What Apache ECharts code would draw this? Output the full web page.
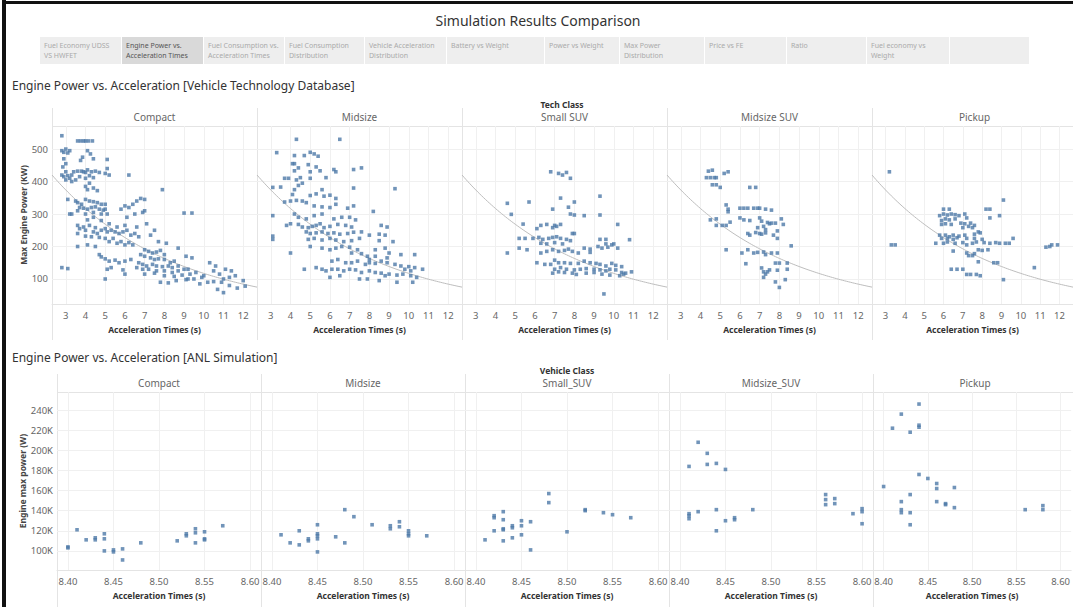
<!DOCTYPE html>
<html>
<head>
<meta charset="utf-8">
<script src="https://cdn.jsdelivr.net/npm/echarts@6/dist/echarts.min.js"></script>
<style>
  html, body { margin: 0; padding: 0; background: #ffffff; }
  #chart { width: 1073px; height: 607px; }
</style>
</head>
<body>
<div id="chart"></div>
<script>
// ---- Text ----
const pageTitle = 'Simulation Results Comparison';
const tabLabels = [
  'Fuel Economy UDSS\nVS HWFET', 'Engine Power vs.\nAcceleration Times', 'Fuel Consumption vs.\nAcceleration Times',
  'Fuel Consumption\nDistribution', 'Vehicle Acceleration\nDistribution', 'Battery vs Weight', 'Power vs Weight',
  'Max Power\nDistribution', 'Price vs FE', 'Ratio', 'Fuel economy vs\nWeight', ''
];
const activeTab = 1;
const techTitle = 'Engine Power vs. Acceleration [Vehicle Technology Database]';
const anlTitle = 'Engine Power vs. Acceleration [ANL Simulation]';
const techHeader = 'Tech Class';
const anlHeader = 'Vehicle Class';
const techClasses = ['Compact', 'Midsize', 'Small SUV', 'Midsize SUV', 'Pickup'];
const vehicleClasses = ['Compact', 'Midsize', 'Small_SUV', 'Midsize_SUV', 'Pickup'];
const xName = 'Acceleration Times (s)';
const techYName = 'Max Engine Power (KW)';
const anlYName = 'Engine max power (W)';

// ---- Tick values ----
const techXTicks = [3, 4, 5, 6, 7, 8, 9, 10, 11, 12];
const techYTicks = [100, 200, 300, 400, 500];
const anlXTicks = [8.40, 8.45, 8.50, 8.55, 8.60];
const anlYTicks = [100000, 120000, 140000, 160000, 180000, 200000, 220000, 240000];

// ---- Vehicle Technology Database: [acceleration time (s), max engine power (kW)] ----
const techCompact = [
  [2.8,541],[2.8,495],[2.9,490],[3.0,500],[3.1,488],[3.2,495],[2.9,470],[3.0,455],[2.85,445],[3.0,430],[2.8,420],[2.9,415],
  [3.1,418],[3.2,410],[3.3,420],[3.4,430],[3.0,405],[3.3,400],
  [3.6,525],[3.75,525],[3.9,525],[4.0,525],[4.15,525],[4.35,525],
  [4.1,495],[3.85,475],[4.25,485],[3.75,465],[4.4,470],[5.1,468],
  [3.6,432],[3.8,432],[3.9,430],[4.0,428],[4.1,436],[4.3,430],[4.5,432],[4.7,428],[5.1,440],[5.0,425],[5.2,420],[3.7,415],
  [4.0,410],[4.2,418],[4.4,412],[3.5,405],[4.2,395],[4.0,385],[4.4,380],[4.6,372],[4.1,375],[6.2,420],
  [3.1,345],[3.2,300],[3.3,300],[3.6,335],[3.8,330],[4.0,345],[4.2,340],[4.4,338],[4.6,335],[4.8,330],[5.0,330],[3.7,320],
  [3.9,318],[4.1,315],[4.3,320],[4.5,322],[4.7,315],[4.9,312],[4.0,300],[4.4,305],[4.8,300],[5.1,300],[5.0,315],[3.5,340],[3.6,310],
  [3.6,265],[3.7,255],[3.9,260],[4.0,250],[4.2,265],[4.4,245],[4.5,258],[4.6,240],[4.8,250],[5.0,255],[5.1,245],[5.3,250],
  [5.5,245],[5.7,240],[5.9,245],[6.1,250],[6.3,235],[6.5,240],[6.7,230],[4.3,230],[4.7,228],[5.0,225],[5.2,215],[5.4,225],
  [5.6,210],[5.8,215],[6.0,205],[6.2,212],[6.4,205],[4.1,282],[4.4,290],[4.8,280],[5.2,270],[5.6,260],[6.0,265],[6.6,260],
  [4.0,232],[3.6,240],
  [2.8,135],[3.1,132],[3.6,200],[4.1,205],[4.5,200],[4.7,175],[5.0,162],[4.8,168],[5.2,155],[5.5,158],[5.7,150],[6.0,155],
  [6.3,160],[5.1,130],[5.3,135],[5.9,128],[5.0,100],[6.0,115],
  [6.2,320],[6.4,330],[6.6,340],[6.8,348],[7.0,345],[6.5,300],[6.9,305],[7.1,270],[7.0,310],[5.8,315],[6.0,325],[6.1,290],
  [7.5,250],[7.9,375],[7.3,235],[7.7,215],[8.1,210],[7.0,190],[7.2,185],[7.4,180],[7.6,183],[7.8,188],[8.0,175],[6.8,175],
  [7.0,170],[7.3,165],[7.5,160],[7.7,162],[8.0,160],[8.3,150],[8.5,155],[6.7,150],[6.9,145],[7.1,140],[7.4,145],[7.6,140],
  [7.9,138],[8.2,140],[8.4,135],[8.7,140],[6.6,135],[6.9,130],[7.2,130],[7.6,125],[8.0,125],[8.4,120],[8.7,125],[9.0,130],
  [9.2,130],[7.0,115],[7.5,118],[8.0,110],[8.5,108],[8.9,112],[9.3,115],[9.6,120],[10.0,110],[7.8,90],[8.2,88],[8.6,95],
  [9.1,98],[9.5,100],[9.9,105],[8.7,195],[9.1,170],[9.4,165],[10.3,150],[10.5,125],[9.0,303],[9.4,303],[10.6,140],[10.8,115],
  [11.0,100],[11.3,105],[11.6,110],[12.0,95],[11.3,80],[11.7,72],[12.1,78],[10.7,68],[10.9,90],[11.1,130],[11.4,125],[10.2,90],
  [10.5,92],[9.8,85],[9.2,100],[11.0,58]
];
const techMidsize = [
  [4.3,530],[6.5,530],[3.3,489],[4.2,480],[4.7,480],[5.0,490],[5.2,485],[5.4,478],[4.1,455],[4.2,455],[4.4,442],[4.9,452],
  [5.3,445],[4.2,433],[5.0,430],[5.5,433],[6.3,430],[6.2,437],[7.2,437],[7.6,442],[3.7,410],[3.9,410],[4.3,405],[4.5,412],
  [4.6,395],[5.0,410],[5.8,412],[3.1,382],[3.5,383],[4.2,375],[4.4,388],[5.6,375],[7.2,380],[9.3,378],[5.0,357],[5.3,362],
  [5.7,355],[6.0,358],[6.3,348],[4.1,360],[4.3,342],[3.7,337],[4.0,340],[4.6,340],[4.8,335],[5.2,325],[5.6,322],[6.0,320],
  [6.3,330],[6.9,318],[7.2,325],[3.1,295],[4.2,300],[4.4,290],[4.8,285],[5.2,295],[5.6,300],[6.2,285],[6.6,290],[7.0,290],
  [7.3,282],[8.2,308],[3.8,265],[4.0,270],[4.4,268],[4.6,260],[4.9,258],[5.1,262],[5.3,265],[5.5,270],[5.7,258],[6.0,262],
  [6.4,268],[6.8,265],[7.1,260],[8.6,265],[8.9,260],[4.8,245],[5.0,240],[5.3,242],[5.6,245],[5.9,240],[6.2,242],[6.5,238],
  [6.9,240],[7.2,244],[7.6,245],[8.0,235],[8.5,238],[8.8,235],[3.1,232],[3.1,222],[4.9,222],[5.2,225],[5.6,220],[6.0,225],
  [6.3,220],[6.7,215],[7.1,218],[7.5,225],[8.5,218],[9.2,215],[4.0,180],[5.0,200],[5.6,195],[6.0,190],[6.3,195],[6.6,200],
  [7.0,198],[7.4,190],[8.3,190],[8.8,195],[9.0,180],[9.6,175],[10.3,175],[7.1,180],[7.6,178],[7.9,170],[8.3,170],[8.9,165],
  [8.0,160],[6.1,155],[6.4,160],[6.8,150],[7.1,150],[7.4,155],[7.8,145],[8.0,150],[8.3,148],[8.6,155],[8.9,150],[9.3,145],
  [9.6,140],[10.0,138],[10.3,135],[10.7,130],[4.7,130],[5.3,135],[5.6,130],[5.8,125],[6.1,130],[6.4,130],[6.7,125],[7.0,130],
  [7.3,128],[7.6,120],[8.0,125],[8.3,120],[8.6,118],[9.0,115],[9.4,112],[9.7,115],[10.1,110],[10.4,105],[10.1,125],[9.8,130],
  [6.0,105],[6.5,110],[7.5,100],[7.9,100],[8.5,95],[9.4,90],[10.2,90],[8.8,110]
];
const techSmallSUV = [
  [6.8,430],[7.2,425],[7.4,420],[7.6,428],[7.8,410],[9.3,355],[4.6,333],[5.7,337],[7.3,349],[7.7,321],[8.0,337],[6.9,315],
  [4.8,299],[7.8,300],[8.0,297],[8.5,295],[9.3,297],[5.4,269],[10.2,268],[6.3,265],[6.6,268],[7.0,265],[7.3,268],[6.1,255],
  [6.9,258],[7.1,262],[7.9,240],[8.0,240],[10.8,221],[5.2,225],[5.5,225],[5.9,225],[6.2,228],[6.4,222],[6.7,225],[6.9,228],
  [7.1,230],[7.3,225],[7.6,222],[7.8,218],[6.3,210],[6.6,208],[7.0,212],[7.4,208],[4.6,180],[5.2,195],[5.6,190],[6.3,180],
  [6.6,185],[6.9,190],[7.2,185],[7.5,188],[7.7,192],[7.9,185],[8.2,180],[8.5,195],[8.8,182],[8.8,192],[9.2,200],[9.6,208],
  [9.9,205],[9.4,195],[9.7,198],[10.2,195],[10.0,208],[9.3,222],[9.6,222],[6.1,150],[6.5,145],[6.8,145],[7.0,158],[7.2,150],
  [7.5,150],[7.8,148],[8.2,148],[8.5,155],[8.8,150],[9.1,148],[9.3,145],[9.6,140],[9.9,148],[10.1,142],[10.4,138],[7.0,130],
  [7.3,135],[7.6,130],[8.0,128],[8.3,130],[8.6,132],[9.0,130],[9.3,128],[9.6,125],[9.8,130],[10.1,128],[10.4,120],[10.6,118],
  [10.9,122],[6.9,118],[7.2,122],[7.5,120],[7.9,118],[8.1,114],[8.6,118],[9.0,120],[9.4,115],[9.8,112],[10.3,110],[10.5,115],
  [9.5,54]
];
const techMidsizeSUV = [
  [4.4,432],[4.6,435],[4.3,412],[4.5,412],[4.7,412],[4.8,412],[5.2,425],[5.4,430],[4.6,390],[4.8,390],[5.0,382],[6.5,382],
  [6.8,382],[5.3,328],[5.4,315],[5.4,307],[6.0,318],[6.2,318],[6.4,318],[6.7,318],[6.9,318],[7.0,318],[7.3,315],[7.6,312],
  [4.5,282],[4.8,285],[6.0,288],[6.2,282],[6.5,280],[7.0,288],[7.1,278],[7.4,274],[7.5,270],[7.6,272],[7.8,272],[8.1,285],
  [8.2,268],[4.8,265],[5.1,265],[5.3,265],[5.5,275],[7.2,262],[6.9,258],[7.3,252],[6.8,243],[7.0,240],[7.1,238],[7.3,242],
  [6.4,240],[6.5,235],[7.9,248],[7.7,235],[7.9,225],[8.6,202],[5.3,190],[6.1,180],[6.7,180],[6.9,182],[7.2,183],[7.3,175],
  [7.6,180],[7.9,180],[6.4,190],[6.3,147],[7.1,134],[7.2,122],[7.4,122],[7.5,128],[7.3,115],[7.8,149],[8.0,149],[7.9,127],
  [8.4,149],[8.4,130],[7.2,105],[7.8,91],[8.3,98],[8.0,74]
];
const techPickup = [
  [3.2,430],[9.1,343],[3.3,205],[3.5,205],[6.0,315],[6.3,315],[8.2,315],[8.4,315],[8.9,295],[8.4,288],[5.8,295],[6.0,300],
  [6.2,297],[6.4,300],[6.6,298],[6.8,295],[7.1,300],[5.9,280],[6.1,285],[6.3,282],[6.6,285],[7.2,288],[5.9,268],[6.1,270],
  [6.4,268],[6.9,272],[7.1,270],[7.4,272],[7.6,265],[7.0,258],[7.3,262],[7.5,258],[5.8,235],[6.1,235],[6.3,230],[6.5,235],
  [6.8,232],[7.1,235],[7.6,238],[7.8,245],[7.9,242],[5.9,225],[6.2,225],[6.5,222],[6.7,227],[7.2,225],[7.6,225],[8.0,222],
  [9.6,225],[5.6,210],[6.0,210],[6.2,214],[6.6,210],[7.0,212],[7.2,205],[7.5,210],[7.7,214],[8.1,212],[8.4,210],[8.7,212],
  [8.9,210],[9.2,210],[9.4,210],[6.5,186],[7.2,180],[7.8,190],[8.0,188],[8.3,190],[7.3,172],[7.5,172],[7.6,178],[11.3,198],
  [11.5,200],[11.6,205],[11.9,205],[8.6,150],[8.8,150],[7.8,153],[6.4,130],[6.7,130],[7.0,130],[7.2,114],[7.4,114],[7.7,114],
  [7.9,110],[10.7,135],[9.1,98]
];

// ---- ANL Simulation: [acceleration time (s), engine max power (W)] ----
const anlCompact = [
  [8.40,104000],[8.40,103000],[8.41,121000],[8.42,111000],[8.43,113000],[8.43,111000],[8.44,117000],[8.44,112000],
  [8.44,100000],[8.45,101000],[8.45,99000],[8.46,102000],[8.46,91000],[8.48,108000],[8.52,110000],[8.53,117000],
  [8.53,115000],[8.54,122000],[8.54,118000],[8.54,108000],[8.55,119000],[8.55,112000],[8.55,111000],[8.57,125000]
];
const anlMidsize = [
  [8.41,116000],[8.42,108000],[8.43,120000],[8.43,106000],[8.44,112000],[8.44,110000],[8.45,126000],[8.45,117000],
  [8.45,115000],[8.45,112000],[8.45,99000],[8.47,114000],[8.48,141000],[8.48,108000],[8.49,134000],[8.51,126000],
  [8.53,125000],[8.53,122000],[8.54,129000],[8.54,124000],[8.55,120000],[8.55,117000],[8.55,115000],[8.57,115000]
];
const anlSmallSUV = [
  [8.41,111000],[8.42,135000],[8.42,133000],[8.42,120000],[8.43,139000],[8.43,131000],[8.43,122000],[8.43,121000],
  [8.43,110000],[8.44,125000],[8.44,123000],[8.44,113000],[8.45,130000],[8.45,125000],[8.45,116000],[8.46,129000],
  [8.46,101000],[8.48,157000],[8.48,148000],[8.50,119000],[8.52,141000],[8.52,140000],[8.54,138000],[8.55,136000],
  [8.57,133000]
];
const anlMidsizeSUV = [
  [8.41,184000],[8.42,208000],[8.43,197000],[8.43,186000],[8.44,187000],[8.45,181000],[8.41,137000],[8.41,135000],
  [8.41,132000],[8.42,139000],[8.44,141000],[8.44,120000],[8.45,130000],[8.46,133000],[8.46,131000],[8.48,141000],
  [8.56,156000],[8.56,151000],[8.56,146000],[8.57,152000],[8.57,147000],[8.59,137000],[8.60,142000],[8.60,139000],
  [8.60,127000]
];
const anlPickup = [
  [8.44,246000],[8.42,236000],[8.41,222000],[8.43,218000],[8.44,225000],[8.44,223000],[8.44,176000],[8.45,172000],
  [8.46,167000],[8.46,162000],[8.40,164000],[8.48,163000],[8.43,156000],[8.42,149000],[8.42,141000],[8.42,138000],
  [8.43,138000],[8.43,126000],[8.46,149000],[8.47,147000],[8.47,146000],[8.48,143000],[8.56,141000],[8.58,145000],
  [8.58,141000]
];

// Exponential trend fitted to the database points: power = A * exp(B * time)
const trendA = 615;
const trendB = -0.1657;

const techSets = [techCompact, techMidsize, techSmallSUV, techMidsizeSUV, techPickup];
const anlSets = [anlCompact, anlMidsize, anlSmallSUV, anlMidsizeSUV, anlPickup];

// ---- Layout ----
const FONT = "'Noto Sans', sans-serif";
const MARK = '#4e79a7';
const RULE = '#e4e4e4';
const GRIDLINE = '#f0f0f0';
const topLefts = [52, 257, 462, 667, 872];
const topW = 205, topTop = 126, topH = 178;
const botLefts = [57, 261, 465, 669, 873];
const botW = 204, botTop = 392, botH = 178;
const techX = [2.3, 12.7], techY = [23, 571];
const anlX = [8.388, 8.612], anlY = [81000, 258000];

const grids = [], xAxes = [], yAxes = [], series = [];

function trendData() {
  const pts = [];
  for (let t = techX[0]; t <= techX[1] + 1e-9; t += 0.1) {
    pts.push([+t.toFixed(2), trendA * Math.exp(trendB * t)]);
  }
  return pts;
}

function valueAxis(gridIndex, range, ticks, fmt, showLabels, name, nameGap, isY) {
  return {
    gridIndex, type: 'value', min: range[0], max: range[1],
    axisLine: { show: !isY, lineStyle: { color: RULE } },
    axisTick: { show: false, customValues: ticks },
    axisLabel: { show: showLabels, customValues: ticks, formatter: fmt, color: '#666', fontSize: 9.5, fontFamily: FONT, margin: isY ? 4 : 6 },
    splitLine: { show: true, lineStyle: { color: GRIDLINE, width: 1 } },
    name, nameLocation: 'middle', nameGap, nameRotate: isY ? 90 : 0,
    nameTextStyle: { fontFamily: FONT, fontSize: 8.5, fontWeight: 'bold', color: isY ? '#444' : '#333' }
  };
}

techSets.forEach((set, i) => {
  grids.push({ left: topLefts[i], top: topTop, width: topW, height: topH });
  xAxes.push(valueAxis(i, techX, techXTicks, v => String(Math.round(v)), true, xName, 21, false));
  yAxes.push(valueAxis(i, techY, techYTicks, v => String(Math.round(v)), i === 0, i === 0 ? techYName : '', 24, true));
  series.push({
    type: 'line', xAxisIndex: i, yAxisIndex: i, data: trendData(), showSymbol: false, silent: true,
    lineStyle: { color: '#bdbdbd', width: 1 }, z: 2
  });
  series.push({
    type: 'scatter', xAxisIndex: i, yAxisIndex: i, data: set, symbol: 'rect', symbolSize: 3.6,
    itemStyle: { color: MARK }, z: 3
  });
});

anlSets.forEach((set, j) => {
  const i = j + 5;
  grids.push({ left: botLefts[j], top: botTop, width: botW, height: botH });
  xAxes.push(valueAxis(i, anlX, anlXTicks, v => v.toFixed(2), true, xName, 21, false));
  yAxes.push(valueAxis(i, anlY, anlYTicks, v => Math.round(v / 1000) + 'K', j === 0, j === 0 ? anlYName : '', 30, true));
  series.push({
    type: 'scatter', xAxisIndex: i, yAxisIndex: i, data: set, symbol: 'rect', symbolSize: 3.6,
    itemStyle: { color: MARK }, z: 3
  });
});

// ---- Page furniture: frame, tabs, titles, facet headers and rules ----
const graphic = [];
graphic.push({ type: 'rect', shape: { x: 2, y: 0, width: 4, height: 607 }, style: { fill: '#111' }, silent: true });
graphic.push({ type: 'rect', shape: { x: 2, y: 1, width: 1071, height: 3 }, style: { fill: '#111' }, silent: true });
graphic.push({ type: 'text', x: 538, y: 20, style: { text: pageTitle, font: "14px 'Noto Sans', sans-serif", fill: '#333', align: 'center', verticalAlign: 'middle' } });

const tabEdges = [40, 122, 204, 285, 365, 447, 545, 620, 705, 787, 867, 950, 1030];
tabLabels.forEach((lab, k) => {
  const x0 = tabEdges[k], x1 = tabEdges[k + 1];
  graphic.push({ type: 'rect', shape: { x: x0, y: 37, width: x1 - x0 - 1, height: 27 },
    style: { fill: k === activeTab ? '#d9d9d9' : '#eeeeee' }, silent: true });
  graphic.push({ type: 'text', x: x0 + 4, y: 40,
    style: { text: lab, font: "7px 'Noto Sans', sans-serif", lineHeight: 10, fill: k === activeTab ? '#555' : '#aaa', align: 'left', verticalAlign: 'top' } });
});

graphic.push({ type: 'text', x: 12, y: 85, style: { text: techTitle, font: "12px 'Noto Sans', sans-serif", fill: '#333', verticalAlign: 'middle' } });
graphic.push({ type: 'text', x: 562, y: 104, style: { text: techHeader, font: "bold 8.5px 'Noto Sans', sans-serif", fill: '#333', align: 'center', verticalAlign: 'middle' } });
graphic.push({ type: 'text', x: 12, y: 357, style: { text: anlTitle, font: "12px 'Noto Sans', sans-serif", fill: '#333', verticalAlign: 'middle' } });
graphic.push({ type: 'text', x: 567, y: 370, style: { text: anlHeader, font: "bold 8.5px 'Noto Sans', sans-serif", fill: '#333', align: 'center', verticalAlign: 'middle' } });

function facetFrame(lefts, w, headerTop, plotTop, bottom, names, headerY) {
  lefts.forEach((l, k) => {
    graphic.push({ type: 'text', x: l + w / 2, y: headerY,
      style: { text: names[k], font: "10px 'Noto Sans', sans-serif", fill: '#666', align: 'center', verticalAlign: 'middle' } });
    graphic.push({ type: 'line', shape: { x1: l + 0.5, y1: headerTop, x2: l + 0.5, y2: bottom }, style: { stroke: RULE, lineWidth: 1 }, silent: true });
  });
  const right = Math.min(lefts[lefts.length - 1] + w, 1073);
  graphic.push({ type: 'line', shape: { x1: lefts[0], y1: plotTop + 0.5, x2: right, y2: plotTop + 0.5 }, style: { stroke: RULE, lineWidth: 1 }, silent: true });
}
facetFrame(topLefts, topW, 108, topTop, 340, techClasses, 117);
facetFrame(botLefts, botW, 374, botTop, 607, vehicleClasses, 383);

const chart = echarts.init(document.getElementById('chart'), null, { renderer: 'svg', width: 1073, height: 607 });
chart.setOption({
  animation: false,
  backgroundColor: '#ffffff',
  textStyle: { fontFamily: FONT },
  grid: grids,
  xAxis: xAxes,
  yAxis: yAxes,
  series: series,
  graphic: graphic
});
</script>
</body>
</html>
